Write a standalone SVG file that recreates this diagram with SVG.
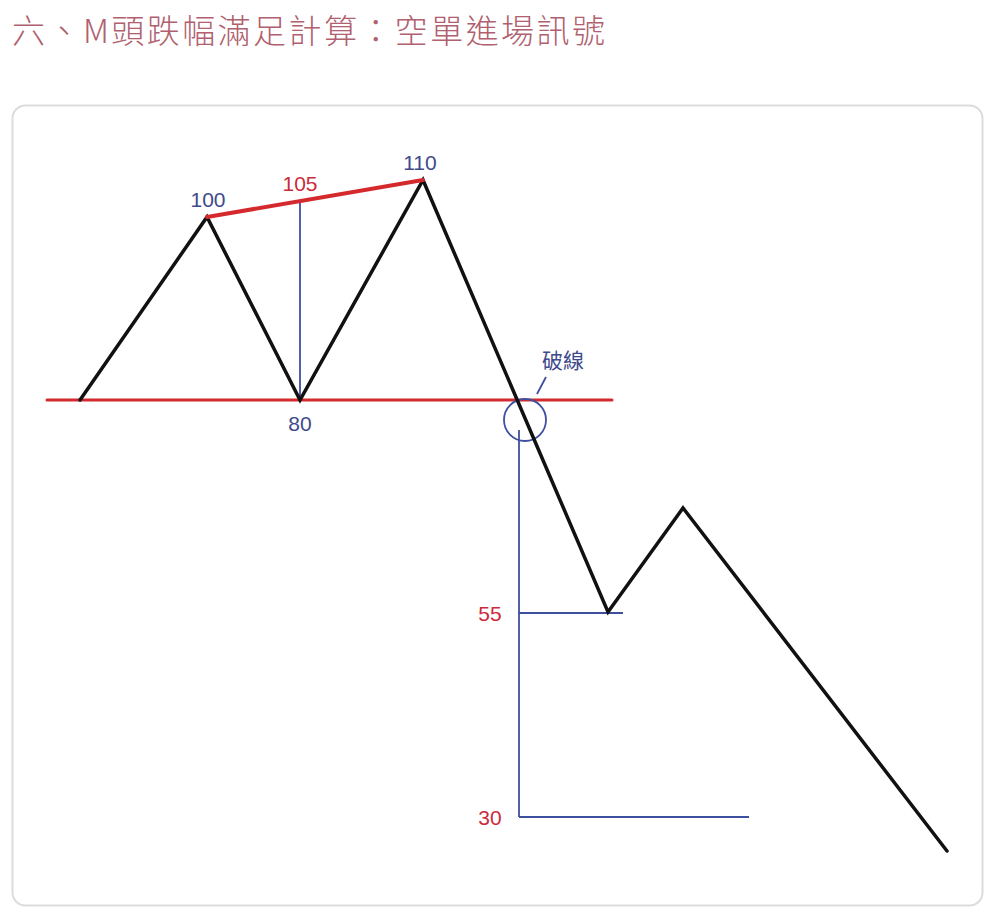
<svg xmlns="http://www.w3.org/2000/svg" width="997" height="920" viewBox="0 0 997 920">
<style>
.title{font-family:"Noto Sans CJK TC","Noto Sans CJK SC",sans-serif;font-size:33px;font-weight:300;fill:#b0606e}
.lbl{font-family:"Liberation Sans",Arial,sans-serif;font-size:21px;text-anchor:middle}
.blue{fill:#3e4a8c}
.red{fill:#cc2a3a}
.cjk{font-family:"Noto Sans CJK TC","Noto Sans CJK SC",sans-serif;font-size:21px;fill:#3e4a8c;text-anchor:middle}
.bl{stroke:#3f4fa0;stroke-width:1.8;fill:none}
.rd{stroke:#d42a2e;fill:none;stroke-linecap:round}
.pr{stroke:#111;stroke-width:3.5;fill:none;stroke-linejoin:miter;stroke-linecap:round}
</style>
<rect x="0" y="0" width="997" height="920" fill="#fff"/>
<text id="title" class="title" x="12" y="43" textLength="593" lengthAdjust="spacing">六、M頭跌幅滿足計算：空單進場訊號</text>
<rect x="12.5" y="105.5" width="970" height="800" rx="13" fill="#fff" stroke="#dcdcdc" stroke-width="2"/>
<g id="connectors">
<line class="rd" x1="47" y1="400" x2="612" y2="400" style="stroke-width:3"/>
<line class="bl" x1="300" y1="201" x2="300" y2="400"/>
<line class="bl" x1="519" y1="430" x2="519" y2="817"/>
<line class="bl" x1="519" y1="613" x2="623" y2="613"/>
<line class="bl" x1="519" y1="817" x2="749" y2="817"/>
<circle class="bl" cx="525" cy="420" r="21"/>
<line class="bl" x1="537" y1="394" x2="546" y2="377"/>
<polyline class="pr" points="80,400 207,217 300,400 423,180 608,612 683,508 947,851"/>
<line class="rd" x1="207" y1="217" x2="423" y2="180" style="stroke-width:4"/>
</g>
<g id="n100"><text class="lbl blue" x="208" y="207">100</text></g>
<g id="n105"><text class="lbl red" x="300" y="191">105</text></g>
<g id="n110"><text class="lbl blue" x="420" y="170">110</text></g>
<g id="n80"><text class="lbl blue" x="300" y="431">80</text></g>
<g id="nbreak"><text class="cjk" x="563" y="368">破線</text></g>
<g id="n55"><text class="lbl red" x="490" y="621">55</text></g>
<g id="n30"><text class="lbl red" x="490" y="825">30</text></g>
</svg>
